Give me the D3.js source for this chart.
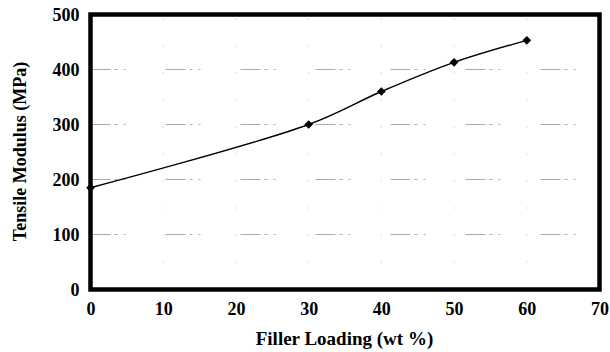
<!doctype html>
<html>
<head>
<meta charset="utf-8">
<script src="https://d3js.org/d3.v7.min.js"></script>
<style>
  body { margin: 0; background: #fff; }
  text { font-family: "Liberation Serif", "Times New Roman", serif; font-weight: bold; fill: #000; }
</style>
</head>
<body>
<div id="chart"></div>
<script>
// data
var loading = [0, 30, 40, 50, 60];
var modulus = [185, 300, 360, 413, 453];
var xTicks = [0, 10, 20, 30, 40, 50, 60, 70];
var yTicks = [0, 100, 200, 300, 400, 500];

var width = 610, height = 352;
var margin = {left: 90.5, right: 10.5, top: 14.5, bottom: 62.5};

var svg = d3.select("#chart").append("svg")
    .attr("width", width)
    .attr("height", height);

var x = d3.scaleLinear().domain([0, 70]).range([margin.left, width - margin.right]);
var y = d3.scaleLinear().domain([0, 500]).range([height - margin.bottom, margin.top]);

// faint broken grid lines, like the scanned original
svg.append("g").selectAll("line")
  .data(yTicks.slice(1, -1))
  .enter().append("line")
    .attr("x1", x(0)).attr("x2", x(70))
    .attr("y1", function(d) { return y(d); })
    .attr("y2", function(d) { return y(d); })
    .attr("stroke", "#aaa")
    .attr("stroke-width", 1)
    .attr("stroke-dasharray", "20,4,3,6,2,40");

svg.append("g").selectAll("line")
  .data(xTicks.slice(1, -1))
  .enter().append("line")
    .attr("y1", y(0)).attr("y2", y(500))
    .attr("x1", function(d) { return x(d); })
    .attr("x2", function(d) { return x(d); })
    .attr("stroke", "#bbb")
    .attr("stroke-width", 1)
    .attr("stroke-dasharray", "1,26");

// frame
svg.append("rect")
    .attr("x", x(0)).attr("y", y(500))
    .attr("width", x(70) - x(0))
    .attr("height", y(0) - y(500))
    .attr("fill", "none")
    .attr("stroke", "#000")
    .attr("stroke-width", 4.5);

// tick labels
var xAxis = d3.axisBottom(x).tickValues(xTicks).tickSize(0).tickPadding(13);
var yAxis = d3.axisLeft(y).tickValues(yTicks).tickSize(0).tickPadding(11);

svg.append("g")
    .attr("transform", "translate(0," + y(0) + ")")
    .call(xAxis)
    .call(function(g) { g.select(".domain").remove(); })
    .selectAll("text")
    .style("font-size", "18px")
    .style("font-family", "Liberation Serif")
    .style("font-weight", "bold");

svg.append("g")
    .attr("transform", "translate(" + x(0) + ",0)")
    .call(yAxis)
    .call(function(g) { g.select(".domain").remove(); })
    .selectAll("text")
    .style("font-size", "18px")
    .style("font-family", "Liberation Serif")
    .style("font-weight", "bold");

// the curve
var points = loading.map(function(d, i) { return [d, modulus[i]]; });
var line = d3.line()
    .x(function(d) { return x(d[0]); })
    .y(function(d) { return y(d[1]); })
    .curve(d3.curveCatmullRom);

svg.append("path")
    .datum(points)
    .attr("d", line)
    .attr("fill", "none")
    .attr("stroke", "#000")
    .attr("stroke-width", 1.4);

svg.append("g").selectAll("path")
  .data(points)
  .enter().append("path")
    .attr("d", d3.symbol().type(d3.symbolSquare).size(38))
    .attr("transform", function(d) { return "translate(" + x(d[0]) + "," + y(d[1]) + ") rotate(45)"; })
    .attr("fill", "#000");

// titles
svg.append("text")
    .attr("x", 344.5)
    .attr("y", 345)
    .attr("text-anchor", "middle")
    .style("font-size", "19px")
    .text("Filler Loading (wt %)");

svg.append("text")
    .attr("transform", "translate(26,151.5) rotate(-90)")
    .attr("text-anchor", "middle")
    .style("font-size", "18px")
    .text("Tensile Modulus (MPa)");
</script>
</body>
</html>
